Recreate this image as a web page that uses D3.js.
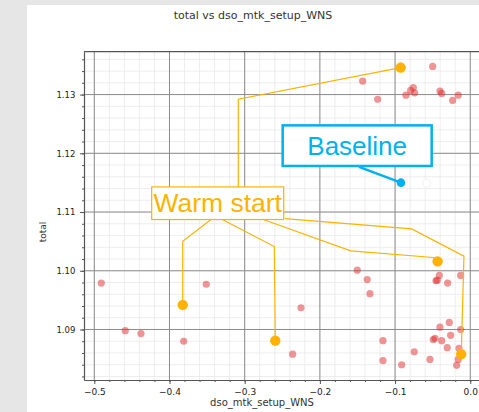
<!DOCTYPE html>
<html>
<head>
<meta charset="utf-8">
<script src="https://cdn.jsdelivr.net/npm/d3@7"></script>
<style>
  html, body { margin: 0; padding: 0; background: #e6e6e6; overflow: hidden; }
  svg { display: block; }
</style>
</head>
<body>
<script>
// data
var redX = [-0.1431, -0.1231, -0.0855, -0.0793, -0.0758, -0.0739, -0.0500, -0.0403, -0.0380, -0.0234, -0.0160,
  -0.4907, -0.3511, -0.4588, -0.4379, -0.3811, -0.2251, -0.2362, -0.1503, -0.1370, -0.1334,
  -0.1161, -0.1161, -0.0912, -0.0745, -0.0536, -0.0492, -0.0469, -0.0456, -0.0439, -0.0412,
  -0.0403, -0.0380, -0.0301, -0.0306, -0.0279, -0.0261, -0.0128, -0.0128, -0.0150, -0.0160, -0.0181];
var redY = [1.1323, 1.1292, 1.1299, 1.1307, 1.1312, 1.1303, 1.1348, 1.1306, 1.1302, 1.1290, 1.1299,
  1.0979, 1.0977, 1.0898, 1.0893, 1.0880, 1.0937, 1.0858, 1.1001, 1.0985, 1.0961,
  1.0881, 1.0847, 1.0840, 1.0862, 1.0849, 1.0883, 1.0885, 1.0983, 1.0984, 1.0992,
  1.0904, 1.0881, 1.0979, 1.0869, 1.0912, 1.0890, 1.0992, 1.0900, 1.0868, 1.0849, 1.0839];

var warmX = [-0.0926, -0.3824, -0.2593, -0.0434, -0.0120];
var warmY = [1.1346, 1.0942, 1.0881, 1.1016, 1.0858];

var baseX = -0.0922, baseY = 1.1150;
var ghostX = -0.058, ghostY = 1.1149;

var xTicks = [-0.5, -0.4, -0.3, -0.2, -0.1, 0.0];
var yTicks = [1.09, 1.10, 1.11, 1.12, 1.13];

var warmLabel = "Warm start", warmAt = [-0.3359, 1.1115];
var baseLabel = "Baseline", baseAt = [-0.1504, 1.1213];

// leader elbows, one list per warm start point
var warmLeaders = [
  [[-0.3085, 1.11427], [-0.3085, 1.1292]],
  [[-0.3448, 1.10872], [-0.3824, 1.10503]],
  [[-0.3298, 1.10872], [-0.2606, 1.10413]],
  [[-0.2753, 1.10872], [-0.1590, 1.10338], [-0.0492, 1.10226]],
  [[-0.2464, 1.10889], [-0.0779, 1.10712], [-0.0084, 1.10248]]
];
var baseLeader = [-0.148, 1.11768];

var W = 479, H = 412;
var orange = "#ffb300", blue = "#00b0f0";

var svg = d3.select("body").append("svg")
  .attr("width", W).attr("height", H);

svg.append("rect").attr("x", 27).attr("y", 5)
  .attr("width", W - 27).attr("height", H - 5).attr("fill", "#fff");

var x = d3.scaleLinear().domain([-0.5137, 0.02]).range([84, 485.3]);
var y = d3.scaleLinear().domain([1.0814, 1.1373]).range([380, 51.7]);

var plot = svg.append("g");

// minor grid
var xMinor = d3.range(-0.5, 0.021, 0.02);
var yMinor = d3.range(1.082, 1.1373, 0.002);
plot.selectAll(".xm").data(xMinor).enter().append("line")
  .attr("x1", d => x(d)).attr("x2", d => x(d))
  .attr("y1", y.range()[0]).attr("y2", y.range()[1])
  .attr("stroke", "#e9e9e9").attr("stroke-width", 0.8);
plot.selectAll(".ym").data(yMinor).enter().append("line")
  .attr("x1", x.range()[0]).attr("x2", x.range()[1])
  .attr("y1", d => y(d)).attr("y2", d => y(d))
  .attr("stroke", "#e9e9e9").attr("stroke-width", 0.8);

// major grid
plot.selectAll(".xg").data(xTicks).enter().append("line")
  .attr("x1", d => x(d)).attr("x2", d => x(d))
  .attr("y1", y.range()[0]).attr("y2", y.range()[1])
  .attr("stroke", "#8c8c8c").attr("stroke-width", 1);
plot.selectAll(".yg").data(yTicks).enter().append("line")
  .attr("x1", x.range()[0]).attr("x2", x.range()[1])
  .attr("y1", d => y(d)).attr("y2", d => y(d))
  .attr("stroke", "#8c8c8c").attr("stroke-width", 1);

// axes
var xAxis = svg.append("g")
  .attr("transform", "translate(0," + y.range()[0] + ")")
  .call(d3.axisBottom(x).tickValues(xTicks).tickSize(4).tickSizeOuter(0)
    .tickFormat(d => d3.format(".1f")(d).replace("-", "\u2212")));
var yAxis = svg.append("g")
  .attr("transform", "translate(" + x.range()[0] + ",0)")
  .call(d3.axisLeft(y).tickValues(yTicks).tickSize(4).tickSizeOuter(0)
    .tickFormat(d3.format(".2f")));
svg.append("g")
  .attr("transform", "translate(" + x.range()[0] + ",0)")
  .call(d3.axisLeft(y).tickValues(yMinor).tickSize(2).tickSizeOuter(0).tickFormat(""))
  .select(".domain").remove();
svg.append("g")
  .attr("transform", "translate(0," + y.range()[0] + ")")
  .call(d3.axisBottom(x).tickValues(xMinor).tickSize(2).tickSizeOuter(0).tickFormat(""))
  .select(".domain").remove();

svg.selectAll(".domain").attr("stroke", "#555").attr("stroke-width", 1.2);
svg.selectAll(".tick line").attr("stroke", "#555");
xAxis.selectAll("text").attr("font-family", "DejaVu Sans").attr("font-size", 9).attr("fill", "#222").attr("dy", "0.9em");
yAxis.selectAll("text").attr("font-family", "DejaVu Sans").attr("font-size", 8.5).attr("fill", "#222").attr("dx", "-0.2em");

// top spine
svg.append("line").attr("x1", x.range()[0]).attr("x2", W)
  .attr("y1", y.range()[1]).attr("y2", y.range()[1])
  .attr("stroke", "#555").attr("stroke-width", 1.2);

// titles
svg.append("text").attr("x", 253).attr("y", 19).attr("text-anchor", "middle")
  .attr("font-family", "DejaVu Sans").attr("font-size", 11).attr("fill", "#333")
  .text("total vs dso_mtk_setup_WNS");
svg.append("text").attr("x", 262).attr("y", 406).attr("text-anchor", "middle")
  .attr("font-family", "DejaVu Sans").attr("font-size", 10).attr("fill", "#333")
  .text("dso_mtk_setup_WNS");
svg.append("text").attr("transform", "translate(46,232) rotate(-90)").attr("text-anchor", "middle")
  .attr("font-family", "DejaVu Sans").attr("font-size", 9).attr("fill", "#333")
  .text("total");

// red points
plot.selectAll(".red").data(d3.range(redX.length)).enter().append("circle")
  .attr("cx", i => x(redX[i])).attr("cy", i => y(redY[i])).attr("r", 3.6)
  .attr("fill", "#e02b2b").attr("fill-opacity", 0.5);

// ghost marker
plot.append("circle").attr("cx", x(ghostX)).attr("cy", y(ghostY)).attr("r", 4)
  .attr("fill", "#fff").attr("stroke", "#f2f2f2").attr("stroke-width", 1);

// warm start leaders
var line = d3.line().x(d => x(d[0])).y(d => y(d[1]));
warmLeaders.forEach(function (pts, i) {
  plot.append("path")
    .attr("d", line(pts.concat([[warmX[i], warmY[i]]])))
    .attr("fill", "none").attr("stroke", orange).attr("stroke-width", 1.2);
});

// warm start box
var wg = plot.append("g");
var wt = wg.append("text").attr("x", x(warmAt[0])).attr("y", y(warmAt[1]) + 9)
  .attr("text-anchor", "middle").attr("font-family", "Liberation Sans, Arial")
  .attr("font-size", 26.5).attr("fill", orange).text(warmLabel);
var wb = wt.node().getBBox();
wg.insert("rect", "text").attr("x", x(warmAt[0]) - 66).attr("y", y(warmAt[1]) - 16.3)
  .attr("width", 132).attr("height", 32.6)
  .attr("fill", "#fff").attr("stroke", orange).attr("stroke-width", 1.2);

// warm start points
plot.selectAll(".warm").data(d3.range(warmX.length)).enter().append("circle")
  .attr("cx", i => x(warmX[i])).attr("cy", i => y(warmY[i])).attr("r", 5.2)
  .attr("fill", orange);

// baseline
plot.append("line").attr("x1", x(baseLeader[0])).attr("y1", y(baseLeader[1]))
  .attr("x2", x(baseX)).attr("y2", y(baseY))
  .attr("stroke", blue).attr("stroke-width", 2.5);
plot.append("circle").attr("cx", x(baseX)).attr("cy", y(baseY)).attr("r", 4.3).attr("fill", blue);
plot.append("rect").attr("x", x(baseAt[0]) - 74.5).attr("y", y(baseAt[1]) - 20.3)
  .attr("width", 149).attr("height", 40.6)
  .attr("fill", "#fff").attr("stroke", blue).attr("stroke-width", 2.5);
plot.append("text").attr("x", x(baseAt[0])).attr("y", y(baseAt[1]) + 9.5)
  .attr("text-anchor", "middle").attr("font-family", "Liberation Sans, Arial")
  .attr("font-size", 26).attr("fill", blue).text(baseLabel);
</script>
</body>
</html>
